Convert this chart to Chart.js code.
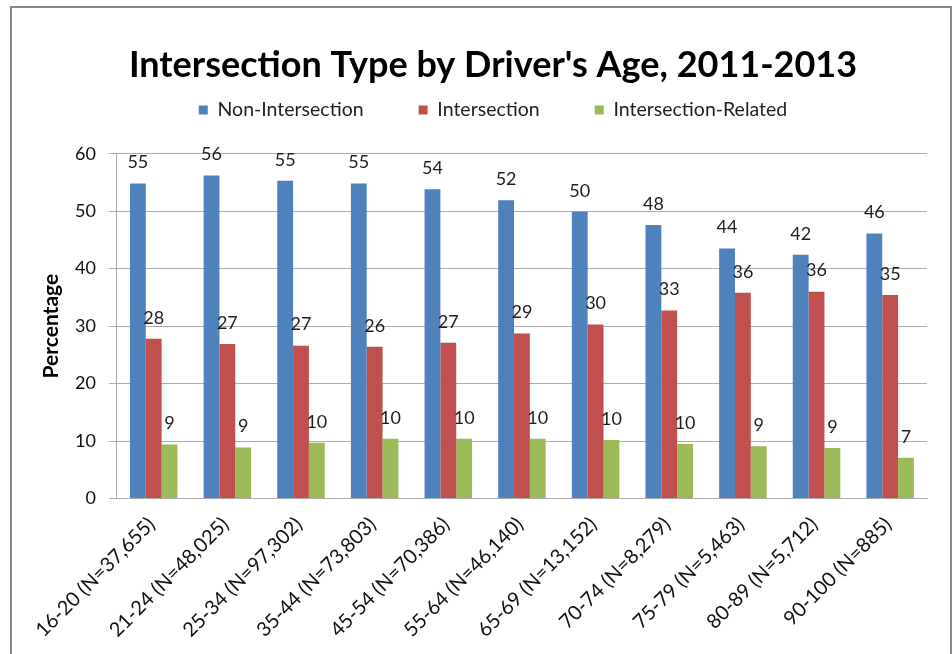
<!DOCTYPE html>
<html>
<head>
<meta charset="utf-8">
<title>Intersection Type by Driver's Age, 2011-2013</title>
<script src="https://cdn.jsdelivr.net/npm/chart.js@4.4.0/dist/chart.umd.min.js"></script>
<style>
  html, body { margin: 0; padding: 0; background: #fff; overflow: hidden; }
  #frame { position: absolute; left: 10px; top: 6px; width: 938px; height: 700px; border: 2px solid #898989; }
  #chart { position: absolute; left: 0; top: 0; }
</style>
</head>
<body>
<div id="frame"><canvas id="chart" width="938" height="646"></canvas></div>
<script>
// age groups with sample sizes
const ageGroups = [
    '16-20 (N=37,655)', '21-24 (N=48,025)', '25-34 (N=97,302)', '35-44 (N=73,803)',
    '45-54 (N=70,386)', '55-64 (N=46,140)', '65-69 (N=13,152)', '70-74 (N=8,279)',
    '75-79 (N=5,463)', '80-89 (N=5,712)', '90-100 (N=885)'
];
const nonIntersection = [54.8, 56.2, 55.3, 54.8, 53.8, 51.9, 49.9, 47.6, 43.5, 42.4, 46.1];
const intersection = [27.8, 26.9, 26.6, 26.4, 27.1, 28.7, 30.3, 32.7, 35.8, 36.0, 35.4];
const intersectionRelated = [9.4, 8.9, 9.7, 10.4, 10.4, 10.4, 10.2, 9.5, 9.1, 8.8, 7.1];
const yTicks = { min: 0, max: 60, step: 10 };

const gridGray = '#adadad';
const tickFont = { family: 'Lato', size: 18 };

// draws the rounded value above each bar
const barValueLabels = {
    id: 'barValueLabels',
    afterDatasetsDraw(chart) {
        const ctx = chart.ctx;
        ctx.save();
        ctx.font = '18px Lato';
        ctx.fillStyle = '#1e1e1e';
        ctx.textAlign = 'center';
        ctx.textBaseline = 'middle';
        chart.data.datasets.forEach((ds, i) => {
            chart.getDatasetMeta(i).data.forEach((bar, j) => {
                ctx.fillText(String(Math.round(ds.data[j])), bar.x, bar.y - 21);
            });
        });
        ctx.restore();
    }
};

const ctx = document.getElementById('chart').getContext('2d');
new Chart(ctx, {
    type: 'bar',
    data: {
        labels: ageGroups,
        datasets: [
            { label: 'Non-Intersection', data: nonIntersection, backgroundColor: '#4F81BD', xAxisID: 'x', yAxisID: 'y' },
            { label: 'Intersection', data: intersection, backgroundColor: '#C0504D', xAxisID: 'x', yAxisID: 'y' },
            { label: 'Intersection-Related', data: intersectionRelated, backgroundColor: '#9BBB59', xAxisID: 'x', yAxisID: 'y' },
        ],
    },
    options: {
        responsive: false,
        animation: false,
        devicePixelRatio: 1,
        datasets: { bar: { categoryPercentage: 0.645, barPercentage: 1.0, borderWidth: 0 } },
        layout: { padding: { left: 29, right: 5, top: 0, bottom: 6 } },
        plugins: {
            title: {
                display: true,
                text: "Intersection Type by Driver's Age, 2011-2013",
                color: '#000',
                font: { family: 'Lato', size: 36, weight: 'bold' },
                padding: { top: 36, bottom: -42 },
            },
            legend: {
                position: 'top',
                labels: {
                    boxWidth: 9,
                    boxHeight: 9,
                    padding: 55,
                    color: '#1e1e1e',
                    font: { family: 'Lato', size: 19.5 },
                },
            },
            tooltip: { enabled: false },
        },
        scales: {
            x: {
                grid: { display: false },
                border: { color: gridGray },
                ticks: { minRotation: 45, maxRotation: 45, color: '#111', font: { family: 'Lato', size: 20 }, padding: 6, labelOffset: -2 },
            },
            // spacer between the legend and the plot
            xTop: {
                type: 'category',
                position: 'top',
                grid: { display: false },
                border: { display: false },
                ticks: { display: false },
                afterFit(scale) { scale.height = 24; },
            },
            y: {
                min: yTicks.min,
                max: yTicks.max,
                ticks: { stepSize: yTicks.step, padding: 13, color: '#111', font: tickFont },
                grid: { color: gridGray, tickLength: 8, tickColor: gridGray },
                border: { color: gridGray },
                title: {
                    display: true,
                    text: 'Percentage',
                    color: '#000',
                    font: { family: 'Lato', size: 21, weight: 'bold', lineHeight: 1 },
                    padding: { top: 0, bottom: 0 },
                },
            },
            // spacer on the right
            yRight: {
                type: 'linear',
                position: 'right',
                grid: { display: false },
                border: { display: false },
                ticks: { display: false },
                afterFit(scale) { scale.width = 18; },
            },
        },
    },
    plugins: [barValueLabels],
});
</script>
</body>
</html>
